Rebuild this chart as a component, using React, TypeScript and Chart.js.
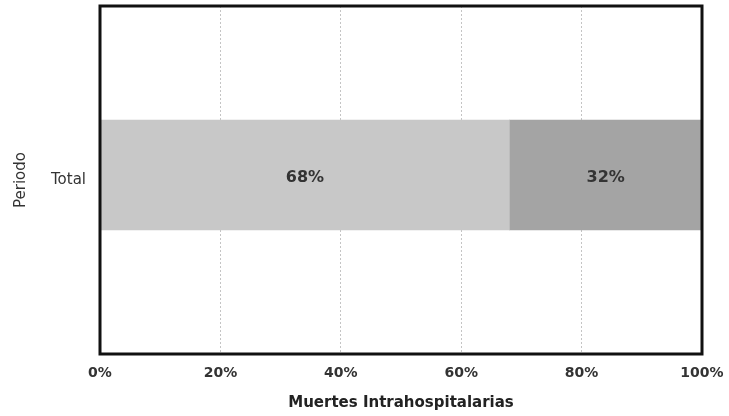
import React, { useEffect, useRef } from "react";
import { Chart, registerables } from "chart.js";

Chart.register(...registerables);

const categories = ["Total"];
const seriesNames = ["Serie 1", "Serie 2"];
const series1 = [68];
const series2 = [32];
const xTicks = [0, 20, 40, 60, 80, 100];

const borderPlugin = {
  id: "plotBorder",
  afterDraw(chart: any) {
    const { ctx, chartArea } = chart;
    ctx.save();
    ctx.strokeStyle = "#111";
    ctx.lineWidth = 3;
    ctx.strokeRect(chartArea.left, chartArea.top, chartArea.right - chartArea.left, chartArea.bottom - chartArea.top);
    ctx.restore();
  },
};

const labelPlugin = {
  id: "barLabels",
  afterDatasetsDraw(chart: any) {
    const { ctx } = chart;
    ctx.save();
    ctx.font = "bold 16px 'DejaVu Sans'";
    ctx.fillStyle = "#333";
    ctx.textAlign = "center";
    ctx.textBaseline = "middle";
    chart.data.datasets.forEach((ds: any, i: number) => {
      const meta = chart.getDatasetMeta(i);
      meta.data.forEach((el: any, j: number) => {
        const v = ds.data[j];
        const cx = (el.x + el.base) / 2;
        ctx.fillText(v + "%", cx, el.y + 3);
      });
    });
    ctx.restore();
  },
};

export default function App() {
  const ref = useRef<HTMLCanvasElement>(null);
  useEffect(() => {
    document.body.style.margin = "0";
    const chart = new Chart(ref.current as HTMLCanvasElement, {
      type: "bar",
      data: {
        labels: categories,
        datasets: [
          { label: seriesNames[0], data: series1, backgroundColor: "#c8c8c8", barThickness: 110 },
          { label: seriesNames[1], data: series2, backgroundColor: "#a4a4a4", barThickness: 110 },
        ],
      },
      options: {
        indexAxis: "y",
        animation: false,
        responsive: false,
        maintainAspectRatio: false,
        layout: { padding: { top: 6, right: 27, left: 0, bottom: 0 } },
        plugins: { legend: { display: false }, tooltip: { enabled: false } },
        scales: {
          x: {
            stacked: true,
            min: 0,
            max: 100,
            afterBuildTicks: (s: any) => {
              s.ticks = xTicks.map((v) => ({ value: v }));
            },
            afterFit: (s: any) => {
              s.height = 62;
              s.paddingLeft = 0;
              s.paddingRight = 0;
            },
            grid: { color: "#c4c4c4", drawTicks: false },
            border: { display: false, dash: [2, 2] },
            ticks: {
              padding: 11,
              color: "#333",
              font: { family: "'DejaVu Sans'", size: 14, weight: "bold" },
              callback: (v: any) => v + "%",
            },
            title: {
              display: true,
              text: "Muertes Intrahospitalarias",
              color: "#222",
              font: { family: "'DejaVu Sans'", size: 15, weight: "bold" },
              padding: { top: 0, bottom: 4 },
            },
          },
          y: {
            stacked: true,
            afterDataLimits: (s: any) => {
              s.min = 0.0144;
              s.max = 0.0144;
            },
            afterFit: (s: any) => {
              s.width = 100;
              s.paddingTop = 0;
              s.paddingBottom = 0;
            },
            grid: { display: false },
            border: { display: false },
            ticks: {
              padding: 6,
              color: "#333",
              font: { family: "'DejaVu Sans'", size: 15 },
              callback: (v: any) => categories[Math.round(v)],
            },
            title: {
              display: true,
              text: "Periodo",
              color: "#333",
              font: { family: "'DejaVu Sans'", size: 15 },
              padding: { top: 12, bottom: 0 },
            },
          },
        },
      },
      plugins: [borderPlugin, labelPlugin],
    } as any);
    return () => chart.destroy();
  }, []);
  return <canvas ref={ref} width={729} height={416} style={{ display: "block", width: 729, height: 416 }} />;
}
